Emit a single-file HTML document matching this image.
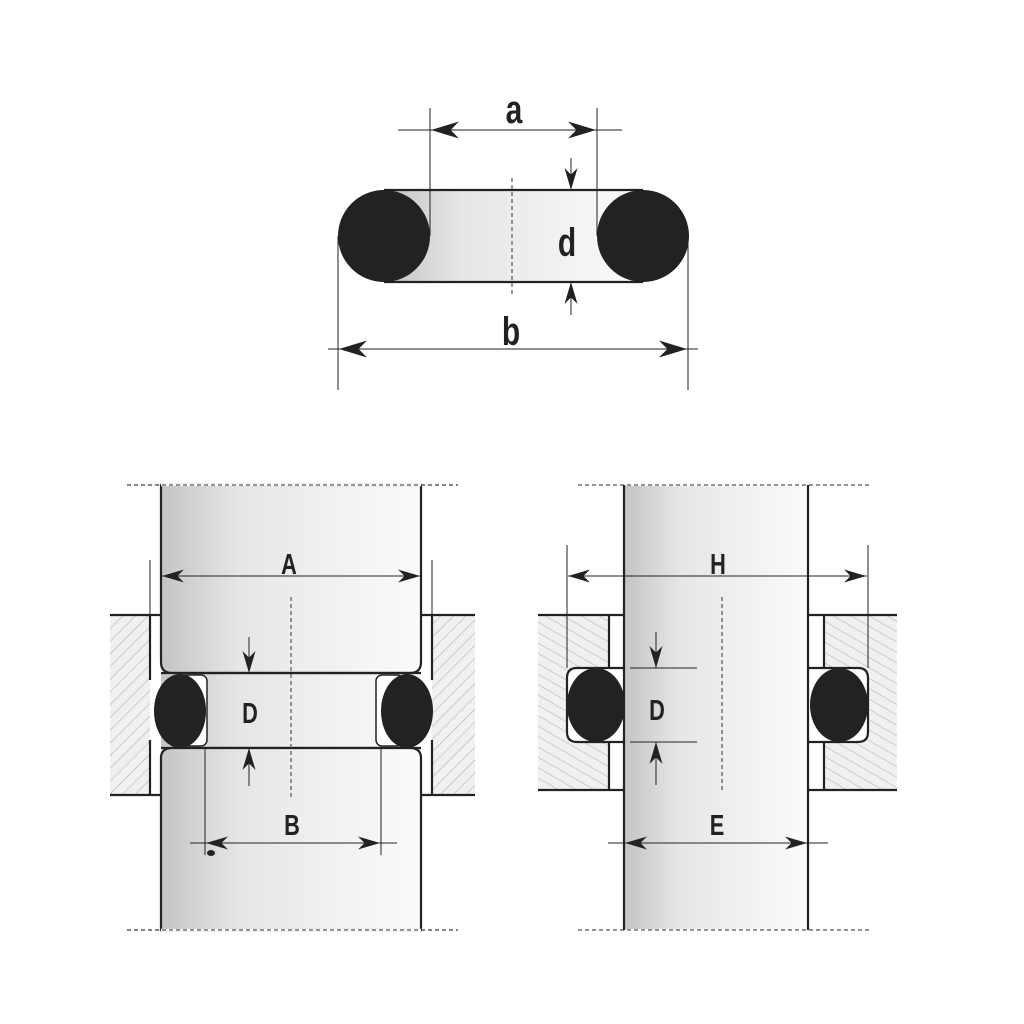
<!DOCTYPE html>
<html><head><meta charset="utf-8"><style>html,body{margin:0;padding:0;background:#fff}svg{display:block}</style></head>
<body>
<svg width="1024" height="1024" viewBox="0 0 1024 1024" xmlns="http://www.w3.org/2000/svg">
<defs>
<linearGradient id="g" x1="0" x2="1" y1="0" y2="0">
<stop offset="0" stop-color="#c4c4c4"/><stop offset="0.3" stop-color="#e6e6e6"/><stop offset="1" stop-color="#fbfbfb"/>
</linearGradient>
<pattern id="h" width="9" height="9" patternUnits="userSpaceOnUse" patternTransform="rotate(45)">
<rect width="9" height="9" fill="#f0f0f0"/><line x1="0" y1="0" x2="0" y2="9" stroke="#999" stroke-width="0.8"/>
</pattern>
<pattern id="h2" width="9" height="9" patternUnits="userSpaceOnUse" patternTransform="rotate(-60)">
<rect width="9" height="9" fill="#f0f0f0"/><line x1="0" y1="0" x2="0" y2="9" stroke="#999" stroke-width="0.8"/>
</pattern>
<marker id="ar" viewBox="0 0 10 10" refX="10" refY="5" markerWidth="22" markerHeight="13" markerUnits="userSpaceOnUse" orient="auto-start-reverse" preserveAspectRatio="none">
<path d="M0,0 L10,5 L0,10 L3,5 Z" fill="#222"/>
</marker>
<marker id="ab" viewBox="0 0 10 10" refX="10" refY="5" markerWidth="28" markerHeight="17" markerUnits="userSpaceOnUse" orient="auto-start-reverse" preserveAspectRatio="none">
<path d="M0,0 L10,5 L0,10 L3,5 Z" fill="#222"/>
</marker>
</defs>
<style>
.l{stroke:#222;stroke-width:1;fill:none}
.o{stroke:#222;stroke-width:2.2;fill:none}
.of{stroke:#222;stroke-width:2.2}
.d{stroke:#555;stroke-width:1.2;stroke-dasharray:4 3;fill:none}
.t{font-family:"Liberation Sans",sans-serif;fill:#222;text-anchor:middle;font-weight:bold}
</style>

<!-- TOP O-RING -->
<rect x="384" y="190" width="259" height="92" fill="url(#g)"/>
<line x1="384" y1="190" x2="643" y2="190" class="o"/>
<line x1="384" y1="282" x2="643" y2="282" class="o"/>
<circle cx="384" cy="236" r="46" fill="#222"/>
<circle cx="643" cy="236" r="46" fill="#222"/>
<line x1="512" y1="178" x2="512" y2="296" class="d"/>
<line x1="430" y1="108" x2="430" y2="236" class="l"/>
<line x1="597" y1="108" x2="597" y2="236" class="l"/>
<line x1="398" y1="130" x2="622" y2="130" class="l"/>
<line x1="470" y1="130" x2="431" y2="130" class="l" marker-end="url(#ab)"/>
<line x1="560" y1="130" x2="596" y2="130" class="l" marker-end="url(#ab)"/>
<text x="514" y="123" class="t" font-size="40" transform="translate(514 0) scale(0.75 1) translate(-514 0)">a</text>
<line x1="571" y1="158" x2="571" y2="190" class="l" marker-end="url(#ar)"/>
<line x1="571" y1="315" x2="571" y2="282" class="l" marker-end="url(#ar)"/>
<text x="567" y="256" class="t" font-size="40" transform="translate(567 0) scale(0.75 1) translate(-567 0)">d</text>
<line x1="338" y1="236" x2="338" y2="390" class="l"/>
<line x1="688" y1="236" x2="688" y2="390" class="l"/>
<line x1="328" y1="349" x2="698" y2="349" class="l"/>
<line x1="380" y1="349" x2="339" y2="349" class="l" marker-end="url(#ab)"/>
<line x1="650" y1="349" x2="687" y2="349" class="l" marker-end="url(#ab)"/>
<text x="511" y="345" class="t" font-size="40" transform="translate(511 0) scale(0.75 1) translate(-511 0)">b</text>

<!-- BOTTOM LEFT -->
<line x1="127" y1="485" x2="458" y2="485" class="d"/>
<line x1="127" y1="930" x2="458" y2="930" class="d"/>
<rect x="110" y="615" width="40" height="180" fill="url(#h)"/>
<rect x="432" y="615" width="43" height="180" fill="url(#h)"/>
<line x1="110" y1="615" x2="161" y2="615" class="o"/>
<line x1="110" y1="795" x2="161" y2="795" class="o"/>
<line x1="421" y1="615" x2="475" y2="615" class="o"/>
<line x1="421" y1="795" x2="475" y2="795" class="o"/>
<line x1="150" y1="615" x2="150" y2="680" class="o"/>
<line x1="150" y1="740" x2="150" y2="795" class="o"/>
<line x1="432" y1="615" x2="432" y2="680" class="o"/>
<line x1="432" y1="740" x2="432" y2="795" class="o"/>
<line x1="150" y1="560" x2="150" y2="615" class="l"/>
<line x1="432" y1="560" x2="432" y2="615" class="l"/>
<rect x="161" y="673" width="260" height="75" fill="url(#g)"/>
<path d="M161,485 L161,662 Q161,673 172,673 L410,673 Q421,673 421,662 L421,485 Z" fill="url(#g)" class="of"/>
<line x1="161" y1="673" x2="421" y2="673" class="o"/>
<line x1="161" y1="748" x2="421" y2="748" class="o"/>
<path d="M161,930 L161,758 Q161,748 172,748 L410,748 Q421,748 421,758 L421,930 Z" fill="url(#g)" class="of"/>
<line x1="161" y1="930" x2="421" y2="930" stroke="#fff" stroke-width="2.4"/>
<line x1="127" y1="930" x2="458" y2="930" class="d"/>
<line x1="161" y1="485" x2="421" y2="485" stroke="#fff" stroke-width="2.4"/>
<line x1="127" y1="485" x2="458" y2="485" class="d"/>
<rect x="180" y="675" width="27" height="71" rx="6" fill="#fff" stroke="#222" stroke-width="1.5"/>
<rect x="376" y="675" width="27" height="71" rx="6" fill="#fff" stroke="#222" stroke-width="1.5"/>
<ellipse cx="180" cy="711" rx="26" ry="37" fill="#222"/>
<ellipse cx="407" cy="711" rx="26" ry="37" fill="#222"/>
<line x1="291" y1="597" x2="291" y2="800" class="d"/>
<line x1="162" y1="576" x2="420" y2="576" class="l"/>
<line x1="200" y1="576" x2="162" y2="576" class="l" marker-end="url(#ar)"/>
<line x1="380" y1="576" x2="420" y2="576" class="l" marker-end="url(#ar)"/>
<text x="289" y="574" class="t" font-size="29" transform="translate(289 0) scale(0.75 1) translate(-289 0)">A</text>
<line x1="249" y1="637" x2="249" y2="673" class="l" marker-end="url(#ar)"/>
<line x1="249" y1="786" x2="249" y2="748" class="l" marker-end="url(#ar)"/>
<text x="250" y="723" class="t" font-size="29" transform="translate(250 0) scale(0.75 1) translate(-250 0)">D</text>
<line x1="205" y1="748" x2="205" y2="855" class="l"/>
<line x1="381" y1="748" x2="381" y2="855" class="l"/>
<line x1="190" y1="843" x2="397" y2="843" class="l"/>
<line x1="240" y1="843" x2="206" y2="843" class="l" marker-end="url(#ar)"/>
<line x1="345" y1="843" x2="380" y2="843" class="l" marker-end="url(#ar)"/>
<ellipse cx="211" cy="853" rx="4" ry="3" fill="#222"/>
<text x="292" y="835" class="t" font-size="29" transform="translate(292 0) scale(0.75 1) translate(-292 0)">B</text>

<!-- BOTTOM RIGHT -->
<line x1="578" y1="485" x2="870" y2="485" class="d"/>
<line x1="578" y1="930" x2="870" y2="930" class="d"/>
<rect x="538" y="615" width="71" height="175" fill="url(#h2)"/>
<rect x="824" y="615" width="73" height="175" fill="url(#h2)"/>
<line x1="538" y1="615" x2="624" y2="615" class="o"/>
<line x1="538" y1="790" x2="624" y2="790" class="o"/>
<line x1="808" y1="615" x2="897" y2="615" class="o"/>
<line x1="808" y1="790" x2="897" y2="790" class="o"/>
<line x1="609" y1="615" x2="609" y2="668" class="o"/>
<line x1="609" y1="742" x2="609" y2="790" class="o"/>
<line x1="824" y1="615" x2="824" y2="668" class="o"/>
<line x1="824" y1="742" x2="824" y2="790" class="o"/>
<path d="M624,668 L577,668 Q567,668 567,678 L567,732 Q567,742 577,742 L624,742" fill="#fff" class="of"/>
<path d="M808,668 L858,668 Q868,668 868,678 L868,732 Q868,742 858,742 L808,742" fill="#fff" class="of"/>
<rect x="624" y="486" width="184" height="443" fill="url(#g)"/>
<line x1="624" y1="485" x2="624" y2="930" class="o"/>
<line x1="808" y1="485" x2="808" y2="930" class="o"/>
<ellipse cx="596" cy="705" rx="29" ry="37" fill="#222"/>
<ellipse cx="839" cy="705" rx="29" ry="37" fill="#222"/>
<line x1="722" y1="597" x2="722" y2="790" class="d"/>
<line x1="567" y1="545" x2="567" y2="668" class="l"/>
<line x1="868" y1="545" x2="868" y2="668" class="l"/>
<line x1="568" y1="576" x2="867" y2="576" class="l"/>
<line x1="610" y1="576" x2="568" y2="576" class="l" marker-end="url(#ar)"/>
<line x1="825" y1="576" x2="866" y2="576" class="l" marker-end="url(#ar)"/>
<text x="718" y="574" class="t" font-size="29" transform="translate(718 0) scale(0.75 1) translate(-718 0)">H</text>
<line x1="630" y1="668" x2="697" y2="668" class="l"/>
<line x1="630" y1="742" x2="697" y2="742" class="l"/>
<line x1="656" y1="632" x2="656" y2="668" class="l" marker-end="url(#ar)"/>
<line x1="656" y1="785" x2="656" y2="742" class="l" marker-end="url(#ar)"/>
<text x="657" y="720" class="t" font-size="29" transform="translate(657 0) scale(0.75 1) translate(-657 0)">D</text>
<line x1="608" y1="843" x2="828" y2="843" class="l"/>
<line x1="660" y1="843" x2="625" y2="843" class="l" marker-end="url(#ar)"/>
<line x1="770" y1="843" x2="807" y2="843" class="l" marker-end="url(#ar)"/>
<text x="717" y="835" class="t" font-size="29" transform="translate(717 0) scale(0.75 1) translate(-717 0)">E</text>
</svg>
</body></html>
